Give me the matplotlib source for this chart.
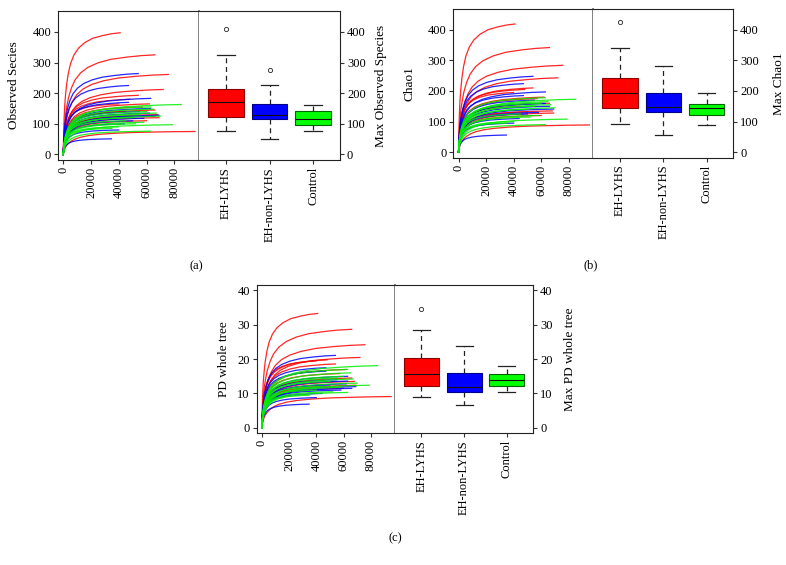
import matplotlib
matplotlib.use("Agg")
import matplotlib.pyplot as plt
import numpy as np

plt.rcParams['font.family'] = ['Liberation Serif', 'DejaVu Serif']

# ---------------- data ----------------
groups = ["EH-LYHS", "EH-non-LYHS", "Control"]
group_colors = ["#ff0000", "#0000ff", "#00ee00"]
box_fill = ["#ff0000", "#0000ff", "#00ff00"]
box_edge = ["#8b0000", "#00008b", "#006400"]

# rarefaction samples: sequencing depth and final values (observed, chao1, PD)
red_depth = [41000, 66000, 75700, 72000, 54000, 48000, 62000, 57000, 66000, 45000, 68000, 69000, 50000, 95000, 60000, 40000]
red_obs   = [397, 325, 261, 212, 193, 180, 165, 155, 145, 140, 130, 120, 125, 75, 110, 165]
red_chao  = [419, 342, 284, 243, 210, 205, 180, 175, 160, 150, 135, 128, 132, 89, 120, 195]
red_pd    = [33.3, 28.7, 24.2, 20.5, 18.6, 19.8, 17.0, 15.8, 14.5, 13.8, 13.5, 12.4, 12.0, 9.1, 11.5, 19.5]

blue_depth = [54000, 47000, 63000, 47000, 63000, 69000, 66000, 58000, 50000, 44000, 34700, 40000, 62000, 55000]
blue_obs   = [264, 225, 183, 170, 150, 128, 125, 118, 110, 100, 51, 80, 135, 140]
blue_chao  = [248, 224, 197, 185, 159, 141, 150, 130, 125, 110, 56, 95, 160, 170]
blue_pd    = [21.1, 17.5, 15.0, 16.5, 13.6, 12.0, 11.5, 11.0, 12.5, 10.0, 6.9, 8.8, 12.8, 14.0]

green_depth = [85000, 63000, 65000, 60000, 55000, 78800, 63000, 50000, 45000, 58000, 40000, 70000, 52000, 67000, 35000]
green_obs   = [163, 155, 148, 140, 130, 97, 76, 120, 110, 105, 90, 125, 100, 135, 85]
green_chao  = [173, 178, 165, 160, 150, 108, 90, 140, 125, 120, 100, 145, 115, 155, 95]
green_pd    = [18.1, 17.0, 16.0, 15.0, 14.5, 12.4, 10.3, 13.5, 12.0, 11.8, 11.0, 13.0, 10.5, 14.2, 9.5]

# shared rarefaction profile (fraction of depth -> fraction of final value)
rare_depth_frac = [0.0, 0.003, 0.008, 0.015, 0.025, 0.04, 0.06, 0.09, 0.13, 0.19, 0.27, 0.38, 0.52, 0.70, 0.85, 1.0]
rare_value_frac = [0.0, 0.09, 0.20, 0.30, 0.40, 0.49, 0.58, 0.67, 0.75, 0.82, 0.875, 0.92, 0.955, 0.978, 0.992, 1.0]

# boxplot statistics of max values
obs_whislo = [76, 52, 76]
obs_q1     = [123, 117, 97]
obs_med    = [170, 128, 117]
obs_q3     = [212, 165, 143]
obs_whishi = [326, 225, 163]
obs_fliers = [[408], [275], []]

chao_whislo = [91, 57, 88]
chao_q1     = [146, 131, 121]
chao_med    = [192, 148, 143]
chao_q3     = [241, 192, 158]
chao_whishi = [341, 282, 195]
chao_fliers = [[424], [], []]

pd_whislo = [9.0, 6.7, 10.4]
pd_q1     = [12.3, 10.3, 12.3]
pd_med    = [15.8, 11.9, 13.8]
pd_q3     = [20.2, 16.0, 15.8]
pd_whishi = [28.6, 23.7, 18.0]
pd_fliers = [[34.7], [], []]

x_ticks = [0, 20000, 40000, 60000, 80000]

# ---------------- figure ----------------
W, H = 786, 565
fig = plt.figure(figsize=(W / 100, H / 100), dpi=100)

def px_axes(x0, x1, y0, y1):
    return fig.add_axes([x0 / W, 1 - y1 / H, (x1 - x0) / W, (y1 - y0) / H])

FS = 9
TICKC = "#333333"

def make_panel(xl, xm, xr, yt, yb, ylim, yticks, ylabel, ylabel_r,
               metric_idx, box_stats, caption, cap_xy, lpad, rpad):
    axl = px_axes(xl, xm, yt, yb)
    axr = px_axes(xm, xr, yt, yb)
    yr = ylim[1] - ylim[0]
    ylo, yhi = ylim[0] - 0.04 * yr, ylim[1] + 0.04 * yr

    # curves
    sets = [
        (red_depth, [red_obs, red_chao, red_pd][metric_idx], group_colors[0]),
        (blue_depth, [blue_obs, blue_chao, blue_pd][metric_idx], group_colors[1]),
        (green_depth, [green_obs, green_chao, green_pd][metric_idx], group_colors[2]),
    ]
    for depths, finals, col in sets:
        for d, f in zip(depths, finals):
            xs = [d * fr for fr in rare_depth_frac]
            ys = [f * fr for fr in rare_value_frac]
            axl.plot(xs, ys, color=col, lw=0.9, alpha=0.85, solid_joinstyle='round')
    axl.set_xlim(-3800, 97800)
    axl.set_ylim(ylo, yhi)
    axl.set_xticks(x_ticks)
    axl.set_xticklabels([str(t) for t in x_ticks], rotation=90, fontsize=FS)
    axl.set_yticks(yticks)
    axl.set_yticklabels([str(t) for t in yticks], fontsize=FS)
    axl.tick_params(length=3, width=0.8, color=TICKC, pad=2)
    axl.set_ylabel(ylabel, fontsize=FS + 0.5, labelpad=lpad)
    for s in ["left", "top", "bottom"]:
        axl.spines[s].set_color("#222222")
        axl.spines[s].set_linewidth(0.8)
    axl.spines["right"].set_color("#777777")
    axl.spines["right"].set_linewidth(1.3)

    # boxes
    whislo, q1, med, q3, whishi, fliers = box_stats
    stats = []
    for i in range(3):
        stats.append(dict(whislo=whislo[i], q1=q1[i], med=med[i], q3=q3[i],
                          whishi=whishi[i], fliers=fliers[i], label=groups[i]))
    bp = axr.bxp(stats, positions=[1, 2, 3], widths=0.82, patch_artist=True,
                 showfliers=True,
                 medianprops=dict(color="#111111", lw=0.8),
                 whiskerprops=dict(color="#222222", lw=0.9, linestyle=(0, (4, 3))),
                 capprops=dict(color="#222222", lw=0.9),
                 flierprops=dict(marker='o', markersize=3, markerfacecolor='none',
                                 markeredgecolor="#222222", markeredgewidth=0.6))
    for i, b in enumerate(bp['boxes']):
        b.set_facecolor(box_fill[i])
        b.set_edgecolor(box_edge[i])
        b.set_linewidth(0.8)
    for c in bp['caps']:
        xd = c.get_xdata()
        mid = (xd[0] + xd[1]) / 2
        c.set_xdata([mid - 0.2, mid + 0.2])
    axr.set_xlim(0.38, 3.62)
    axr.set_ylim(ylo, yhi)
    axr.set_xticks([1, 2, 3])
    axr.set_xticklabels(groups, rotation=90, fontsize=FS)
    axr.yaxis.tick_right()
    axr.yaxis.set_label_position("right")
    axr.set_yticks(yticks)
    axr.set_yticklabels([str(t) for t in yticks], fontsize=FS)
    axr.tick_params(length=3, width=0.8, color=TICKC, pad=2)
    axr.set_ylabel(ylabel_r, fontsize=FS + 0.5, labelpad=rpad)
    axr.spines["left"].set_visible(False)
    for s in ["right", "top", "bottom"]:
        axr.spines[s].set_color("#222222")
        axr.spines[s].set_linewidth(0.8)

    fig.text(cap_xy[0] / W, 1 - cap_xy[1] / H, caption, ha='center', va='center', fontsize=FS)

make_panel(58, 199, 340, 11, 160, (0, 450), [0, 100, 200, 300, 400],
           "Observed Secies", "Max Observed Species", 0,
           (obs_whislo, obs_q1, obs_med, obs_q3, obs_whishi, obs_fliers),
           "(a)", (196.7, 266.7), 9, 7)
make_panel(453.3, 593.3, 733.3, 9, 157.7, (0, 450), [0, 100, 200, 300, 400],
           "Chao1", "Max Chao1", 1,
           (chao_whislo, chao_q1, chao_med, chao_q3, chao_whishi, chao_fliers),
           "(b)", (590.7, 265.7), 9, 10)
make_panel(256.7, 395, 533.3, 285, 433.3, (0, 40), [0, 10, 20, 30, 40],
           "PD whole tree", "Max PD whole tree", 2,
           (pd_whislo, pd_q1, pd_med, pd_q3, pd_whishi, pd_fliers),
           "(c)", (395, 538), 5, 8)

fig.savefig("out.png", dpi=100)
